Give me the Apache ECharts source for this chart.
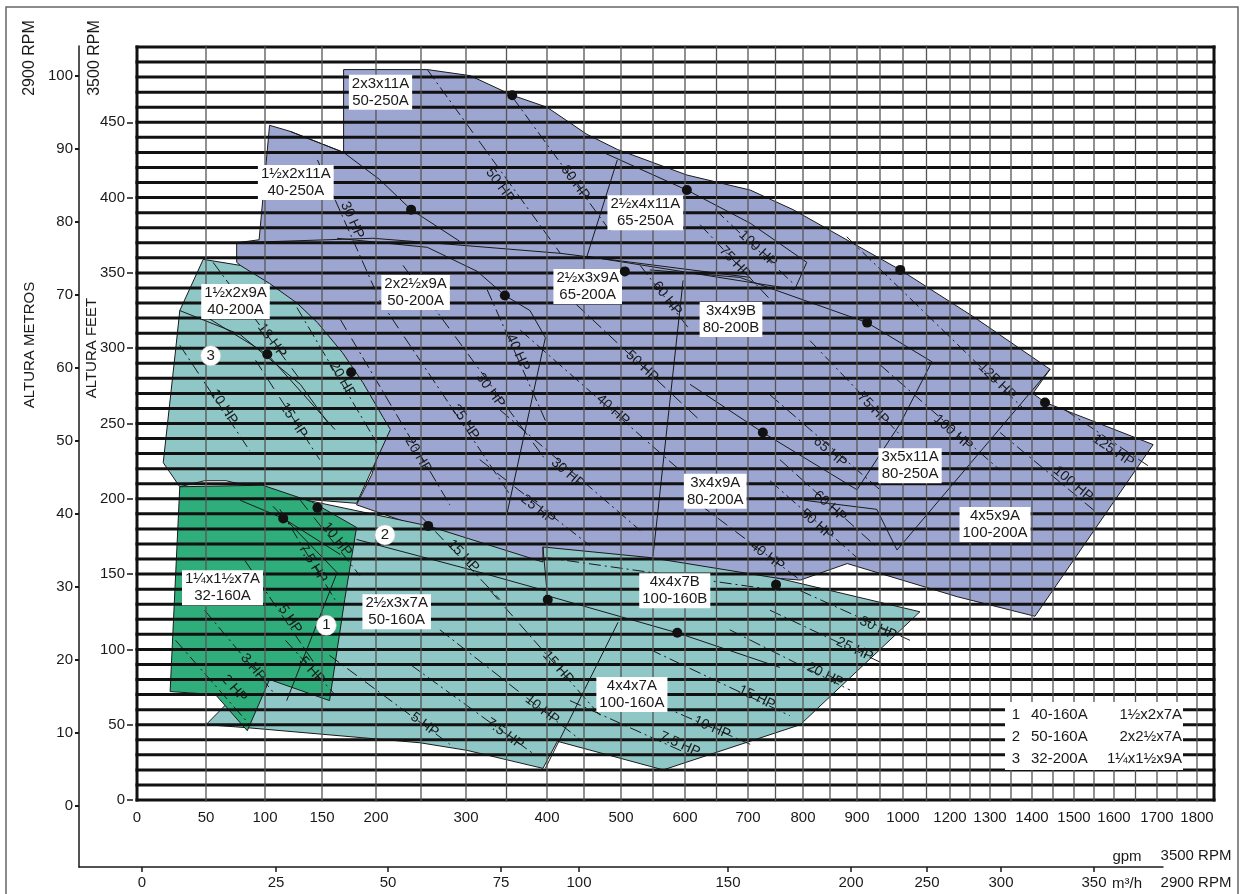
<!DOCTYPE html>
<html>
<head>
<meta charset="utf-8">
<script src="https://cdn.jsdelivr.net/npm/echarts@6/dist/echarts.min.js"></script>
<style>
html,body{margin:0;padding:0;background:#fff}
#chart{width:1246px;height:894px}
</style>
</head>
<body>
<div id="chart"></div>
<script>
// ---------- axis scales ----------
// The printed gpm scale (3500 RPM) is not linear: each labelled value has its own
// offset along the plot width, and values in between are interpolated.
const gpmScaleValues  = [0, 50, 100, 150, 200, 300, 400, 500, 600, 700, 800, 900, 1000, 1200, 1300, 1400, 1500, 1600, 1700, 1800];
const gpmScaleOffsets = [0, 69, 128, 185, 239, 329, 410, 484, 548, 611, 666, 720, 766, 813, 853, 895, 937, 977, 1020, 1060];
const PLOT_SPAN = 1077;

// m³/h scale (2900 RPM) printed underneath, also non-linear
const m3hScaleValues  = [0, 25, 50, 75, 100, 150, 200, 250, 300, 350];
const m3hScaleOffsets = [63, 197, 309, 422, 500, 649, 772, 848, 922, 1015];
const M3H_SPAN = 1084;

const feetTicks   = [0, 50, 100, 150, 200, 250, 300, 350, 400, 450];
const metrosTicks = [0, 10, 20, 30, 40, 50, 60, 70, 80, 90, 100];

function interp(vals, offs, v) {
  let i = 0;
  while (i < vals.length - 2 && v > vals[i + 1]) i++;
  return offs[i] + (v - vals[i]) / (vals[i + 1] - vals[i]) * (offs[i + 1] - offs[i]);
}
const gx = g => interp(gpmScaleValues, gpmScaleOffsets, g);

// ---------- coverage areas [gpm, feet] ----------
const blueEnvelope = [[76,370],[95,372],[104,448],[122,444],[170,430],[170,485],[257,485],[305,481],[357,468],[400,460],[454,442],[495,432],[603,415],[704,405],[782,392],[994,352],[1258,321],[1443,286],[1402,270],[1431,264],[1691,236],[1407,122],[1218,135],[882,157],[795,146],[550,154],[398,156],[260,179],[182,196],[196,216],[212,248],[148,312],[76,357]];
const tealUpper = [[48,359],[79,355],[104,343],[128,330],[146,317],[169,297],[188,277],[208,254],[216,246],[182,197],[131,200],[67,212],[49,212],[31,208],[19,224],[28,299],[31,325]];
const tealLower = [[122,196],[131,200],[258,182],[395,158],[395,168],[545,161],[758,147],[1072,125],[795,50],[566,20],[414,39],[395,21],[301,33],[249,38],[85,48],[50,50],[79,73],[109,159]];
const greenArea = [[31,208],[98,209],[141,198],[182,181],[171,133],[157,66],[104,80],[85,46],[58,70],[24,72]];

// impeller curves and model boundaries [gpm, feet]
const solidCurves = [
  [[122,444],[170,430],[204,412],[239,392],[293,371]],
  [[76,370],[197,373],[282,369],[418,363],[517,357],[704,347]],
  [[164,373],[257,367],[314,351],[348,335],[379,325],[398,307]],
  [[398,307],[351,191]],
  [[495,425],[454,361]],
  [[476,430],[603,405],[704,383],[807,357]],
  [[807,357],[785,339],[454,361]],
  [[597,345],[550,162]],
  [[545,352],[687,347],[922,317],[1123,291]],
  [[1123,291],[994,250],[900,206]],
  [[608,276],[727,244],[900,206]],
  [[1443,286],[987,166]],
  [[758,201],[943,193],[987,166]],
  [[395,168],[401,133]],
  [[496,118],[398,21]],
  [[398,136],[588,111],[758,88]],
  [[182,173],[305,153],[398,139]],
  [[107,195],[164,151],[119,66]],
  [[79,199],[116,187],[167,163]],
  [[31,325],[79,309],[131,276],[157,249]],
  [[48,322],[102,296],[162,246]]
];

// motor power lines: [label, label anchor, line points]
const hpLines = [
  ['50 HP',  [342,408], [[257,485],[418,363]]],
  ['60 HP',  [438,410], [[357,467],[485,378]]],
  ['30 HP',  [178,385], [[146,425],[199,339]]],
  ['100 HP', [718,366], [[648,392],[785,342]]],
  ['75 HP',  [679,357], [[624,382],[749,329]]],
  ['60 HP',  [572,333], [[530,355],[608,312]]],
  ['40 HP',  [364,297], [[326,339],[398,252]]],
  ['30 HP',  [330,272], [[230,355],[398,226]]],
  ['25 HP',  [299,251], [[204,332],[354,203]]],
  ['20 HP',  [247,229], [[167,319],[282,196]]],
  ['50 HP',  [533,288], [[418,339],[624,252]]],
  ['40 HP',  [489,259], [[367,312],[592,219]]],
  ['30 HP',  [428,217], [[342,259],[530,179]]],
  ['25 HP',  [389,193], [[317,226],[458,169]]],
  ['18 HP',  [106,305], [[56,357],[131,279]]],
  ['20 HP',  [169,279], [[128,327],[201,237]]],
  ['10 HP',  [65,261],  [[31,302],[87,232]]],
  ['15 HP',  [125,252], [[92,292],[148,226]]],
  ['75 HP',  [935,260], [[813,305],[1009,239]]],
  ['65 HP',  [850,231], [[740,269],[950,206]]],
  ['60 HP',  [850,195], [[758,226],[939,169]]],
  ['50 HP',  [826,183], [[740,212],[907,159]]],
  ['40 HP',  [735,162], [[624,196],[795,146]]],
  ['100 HP', [1208,244],[[950,289],[1324,219]]],
  ['125 HP', [1317,278],[[881,374],[1383,259]]],
  ['125 HP', [1598,232],[[1479,259],[1679,222]]],
  ['100 HP', [1498,210],[[1324,244],[1565,189]]],
  ['30 HP',  [946,114], [[795,139],[1030,106]]],
  ['25 HP',  [896,100], [[740,126],[961,90]]],
  ['20 HP',  [841,83],  [[671,113],[887,73]]],
  ['15 HP',  [716,68],  [[545,100],[776,56]]],
  ['10 HP',  [643,48],  [[472,80],[704,37]]],
  ['7.5 HP', [592,37],  [[431,66],[608,30]]],
  ['15 HP',  [297,162], [[249,189],[342,133]]],
  ['15 HP',  [415,88],  [[330,139],[472,56]]],
  ['10 HP',  [394,60],  [[271,113],[445,40]]],
  ['7.5 HP', [348,44],  [[238,90],[385,30]]],
  ['5 HP',   [254,50],  [[157,96],[282,37]]],
  ['10 HP',  [164,173], [[131,199],[185,149]]],
  ['7.5 HP', [142,157], [[113,193],[162,133]]],
  ['5 HP',   [122,120], [[83,159],[144,90]]],
  ['5 HP',   [141,86],  [[118,106],[162,70]]],
  ['3 HP',   [90,88],   [[49,126],[109,70]]],
  ['2 HP',   [74,74],   [[28,106],[87,50]]],
  ['',       null,      [[398,161],[758,139]]]
];

// best efficiency points [gpm, feet]
const bepPoints = [[357,468],[239,392],[603,405],[506,351],[348,335],[102,296],[177,284],[994,352],[922,317],[727,244],[1431,264],[116,187],[146,194],[258,182],[401,133],[588,111],[751,143]];

// model captions
const regionModels  = ['2x3x11A','1½x2x11A','2½x4x11A','2x2½x9A','2½x3x9A','3x4x9B','1½x2x9A','3x4x9A','3x5x11A','4x5x9A','1¼x1½x7A','2½x3x7A','4x4x7B','4x4x7A'];
const regionCodes   = ['50-250A','40-250A','65-250A','50-200A','65-200A','80-200B','40-200A','80-200A','80-250A','100-200A','32-160A','50-160A','100-160B','100-160A'];
const regionAnchors = [[205,470],[127,410],[538,390],[244,337],[455,341],[673,319],[75,331],[648,205],[1030,222],[1312,183],[64,141],[223,125],[584,139],[517,70]];

const circleTags    = ['3','2','1'];
const circleAnchors = [[54,295],[210,176],[154,116]];

const legendRows = [
  ['1', '40-160A', '1½x2x7A'],
  ['2', '50-160A', '2x2½x7A'],
  ['3', '32-200A', '1¼x1½x9A']
];

// ---------- styling ----------
const FONT = "'Liberation Sans', Arial, Helvetica, sans-serif";
const INK = '#1a1a1a';
const areaList = [
  { pts: blueEnvelope, color: '#9ca6d1' },
  { pts: tealUpper,    color: '#8ec7c6' },
  { pts: tealLower,    color: '#8ec7c6' },
  { pts: greenArea,    color: '#2fae7c' }
];

// grid lines: every labelled gpm value, plus half steps from 200 gpm upwards
const gridGpm = [];
gpmScaleValues.forEach((v, i) => {
  gridGpm.push(v);
  if (v >= 200 && i < gpmScaleValues.length - 1) gridGpm.push((v + gpmScaleValues[i + 1]) / 2);
});
const gridFeet = [];
for (let f = 0; f <= 500; f += 10) gridFeet.push(f);

const chart = echarts.init(document.getElementById('chart'));

const option = {
  animation: false,
  textStyle: { fontFamily: FONT },
  grid: [
    { left: 137, top: 47, width: PLOT_SPAN, height: 753 },
    { left: 79, top: 46, width: M3H_SPAN, height: 821 }
  ],
  xAxis: [
    {
      gridIndex: 0, type: 'value', min: 0, max: PLOT_SPAN,
      axisLine: { show: false }, axisTick: { show: false }, splitLine: { show: false },
      axisLabel: {
        customValues: gpmScaleValues.map(gx),
        formatter: v => {
          const i = gpmScaleValues.findIndex(g => Math.abs(gx(g) - v) < 0.5);
          return i >= 0 ? String(gpmScaleValues[i]) : '';
        },
        margin: 10, fontSize: 15, color: INK, fontFamily: FONT
      }
    },
    {
      gridIndex: 1, type: 'value', min: 0, max: M3H_SPAN, position: 'bottom',
      axisLine: { show: true, onZero: false, lineStyle: { color: INK, width: 1.5 } },
      axisTick: { show: true, customValues: m3hScaleOffsets, length: 5, lineStyle: { color: INK, width: 1.5 } },
      splitLine: { show: false },
      axisLabel: {
        customValues: m3hScaleOffsets,
        formatter: v => {
          const i = m3hScaleOffsets.findIndex(o => Math.abs(o - v) < 0.5);
          return i >= 0 ? String(m3hScaleValues[i]) : '';
        },
        margin: 8, fontSize: 15, color: INK, fontFamily: FONT
      }
    }
  ],
  yAxis: [
    {
      gridIndex: 0, type: 'value', min: 0, max: 500, offset: 4,
      axisLine: { show: false, onZero: false },
      axisTick: { show: true, customValues: feetTicks, length: 6, lineStyle: { color: INK, width: 1.5 } },
      splitLine: { show: false },
      axisLabel: { customValues: feetTicks, margin: 8, fontSize: 15, color: INK, fontFamily: FONT }
    },
    {
      gridIndex: 1, type: 'value', min: -8.36, max: 104.1,
      axisLine: { show: true, onZero: false, lineStyle: { color: INK, width: 1.5 } },
      axisTick: { show: true, customValues: metrosTicks, length: 4, lineStyle: { color: INK, width: 2 } },
      splitLine: { show: false },
      axisLabel: { customValues: metrosTicks, margin: 6, fontSize: 15, color: INK, fontFamily: FONT }
    }
  ],
  series: [
    {
      type: 'custom', name: 'areas', z: 1, silent: true,
      data: areaList.map(a => [gx(a.pts[0][0]), a.pts[0][1]]),
      renderItem: (params, api) => {
        const a = areaList[params.dataIndex];
        return {
          type: 'polygon',
          shape: { points: a.pts.map(p => api.coord([gx(p[0]), p[1]])) },
          style: { fill: a.color, stroke: '#1a1a1a', lineWidth: 1 }
        };
      }
    },
    {
      type: 'custom', name: 'curves', z: 2, silent: true,
      data: solidCurves.map(c => [gx(c[0][0]), c[0][1]]),
      renderItem: (params, api) => ({
        type: 'polyline',
        shape: { points: solidCurves[params.dataIndex].map(p => api.coord([gx(p[0]), p[1]])) },
        style: { stroke: '#1a1a1a', lineWidth: 1, fill: null }
      })
    },
    {
      type: 'custom', name: 'power', z: 2, silent: true,
      data: hpLines.map(h => [gx(h[2][0][0]), h[2][0][1]]),
      renderItem: (params, api) => {
        const h = hpLines[params.dataIndex];
        const pts = h[2].map(p => api.coord([gx(p[0]), p[1]]));
        const children = [{
          type: 'polyline', shape: { points: pts },
          style: { stroke: '#1a1a1a', lineWidth: 1, lineDash: [12, 4, 2, 4], fill: null }
        }];
        if (h[1]) {
          const a = pts[0], b = pts[pts.length - 1];
          let dx = b[0] - a[0], dy = b[1] - a[1];
          if (dx < 0) { dx = -dx; dy = -dy; }
          const lp = api.coord([gx(h[1][0]), h[1][1]]);
          children.push({
            type: 'text', x: lp[0], y: lp[1], rotation: -Math.atan2(dy, dx),
            style: { text: h[0], fontSize: 14, fontFamily: FONT, fill: INK, align: 'center', verticalAlign: 'middle' }
          });
        }
        return { type: 'group', children };
      }
    },
    {
      type: 'custom', name: 'feetLines', z: 3, silent: true,
      data: gridFeet.map(f => [0, f]),
      renderItem: (params, api) => {
        const f = gridFeet[params.dataIndex];
        const a = api.coord([0, f]), b = api.coord([PLOT_SPAN, f]);
        return { type: 'line', shape: { x1: a[0] - 1.5, y1: a[1], x2: b[0] + 1.5, y2: b[1] },
                 style: { stroke: '#111', lineWidth: 3 } };
      }
    },
    {
      type: 'custom', name: 'gpmLines', z: 3, silent: true,
      data: gridGpm.map(g => [gx(g), 0]).concat([[PLOT_SPAN, 0]]),
      renderItem: (params, api) => {
        const i = params.dataIndex;
        const x = i < gridGpm.length ? gx(gridGpm[i]) : PLOT_SPAN;
        const edge = (i === 0 || i === gridGpm.length);
        const a = api.coord([x, 0]), b = api.coord([x, 500]);
        return { type: 'line', shape: { x1: a[0], y1: a[1] + 1.5, x2: b[0], y2: b[1] - 1.5 },
                 style: { stroke: edge ? '#111' : '#555', lineWidth: edge ? 3 : 1.3 } };
      }
    },
    {
      type: 'scatter', name: 'models', z: 5, silent: true,
      symbolSize: 1, itemStyle: { color: 'rgba(255,255,255,0)', opacity: 1 },
      data: regionAnchors.map((p, i) => ({ value: [gx(p[0]), p[1]], name: regionModels[i] })),
      label: {
        show: true, position: 'inside',
        formatter: p => regionModels[p.dataIndex] + '\n' + regionCodes[p.dataIndex],
        backgroundColor: '#fff', padding: [1, 3, 0, 3], lineHeight: 17,
        fontSize: 15, color: INK, fontFamily: FONT, align: 'center'
      }
    },
    {
      type: 'scatter', name: 'bep', z: 6, silent: true,
      symbolSize: 10, itemStyle: { color: '#111', opacity: 1 },
      data: bepPoints.map(p => [gx(p[0]), p[1]])
    },
    {
      type: 'scatter', name: 'tags', z: 6, silent: true,
      symbol: 'circle', symbolSize: 20,
      itemStyle: { color: '#fff', opacity: 1, borderColor: '#ccc', borderWidth: 0.5 },
      data: circleAnchors.map(p => [gx(p[0]), p[1]]),
      label: {
        show: true, position: 'inside',
        formatter: p => circleTags[p.dataIndex],
        fontSize: 15, color: INK, fontFamily: FONT
      }
    }
  ],
  graphic: [
    { type: 'rect', z: 0, silent: true, shape: { x: 6, y: 7, width: 1232, height: 900 },
      style: { fill: null, stroke: '#666', lineWidth: 1.5 } },
    { type: 'text', z: 10, x: 30, y: 58, rotation: Math.PI / 2,
      style: { text: '2900 RPM', fontSize: 16, fontFamily: FONT, fill: INK, align: 'center', verticalAlign: 'middle' } },
    { type: 'text', z: 10, x: 95, y: 58, rotation: Math.PI / 2,
      style: { text: '3500 RPM', fontSize: 16, fontFamily: FONT, fill: INK, align: 'center', verticalAlign: 'middle' } },
    { type: 'text', z: 10, x: 30, y: 345, rotation: Math.PI / 2,
      style: { text: 'ALTURA METROS', fontSize: 15, fontFamily: FONT, fill: INK, align: 'center', verticalAlign: 'middle' } },
    { type: 'text', z: 10, x: 92, y: 348, rotation: Math.PI / 2,
      style: { text: 'ALTURA FEET', fontSize: 15, fontFamily: FONT, fill: INK, align: 'center', verticalAlign: 'middle' } },
    { type: 'text', z: 10, x: 1127, y: 857,
      style: { text: 'gpm', fontSize: 15, fontFamily: FONT, fill: INK, align: 'center', verticalAlign: 'middle' } },
    { type: 'text', z: 10, x: 1196, y: 856,
      style: { text: '3500 RPM', fontSize: 15, fontFamily: FONT, fill: INK, align: 'center', verticalAlign: 'middle' } },
    { type: 'text', z: 10, x: 1127, y: 884,
      style: { text: 'm³/h', fontSize: 15, fontFamily: FONT, fill: INK, align: 'center', verticalAlign: 'middle' } },
    { type: 'text', z: 10, x: 1196, y: 883,
      style: { text: '2900 RPM', fontSize: 15, fontFamily: FONT, fill: INK, align: 'center', verticalAlign: 'middle' } },
    {
      type: 'group', z: 20, x: 1005, y: 702,
      children: [
        { type: 'rect', z: 20, shape: { x: 0, y: 0, width: 178, height: 68 }, style: { fill: '#fff' } }
      ].concat(legendRows.flatMap((r, i) => [
        { type: 'text', z: 21, x: 11, y: 13 + i * 22,
          style: { text: r[0], fontSize: 15, fontFamily: FONT, fill: INK, align: 'center', verticalAlign: 'middle' } },
        { type: 'text', z: 21, x: 26, y: 13 + i * 22,
          style: { text: r[1], fontSize: 15, fontFamily: FONT, fill: INK, align: 'left', verticalAlign: 'middle' } },
        { type: 'text', z: 21, x: 177, y: 13 + i * 22,
          style: { text: r[2], fontSize: 15, fontFamily: FONT, fill: INK, align: 'right', verticalAlign: 'middle' } }
      ]))
    }
  ]
};

chart.setOption(option);
</script>
</body>
</html>
